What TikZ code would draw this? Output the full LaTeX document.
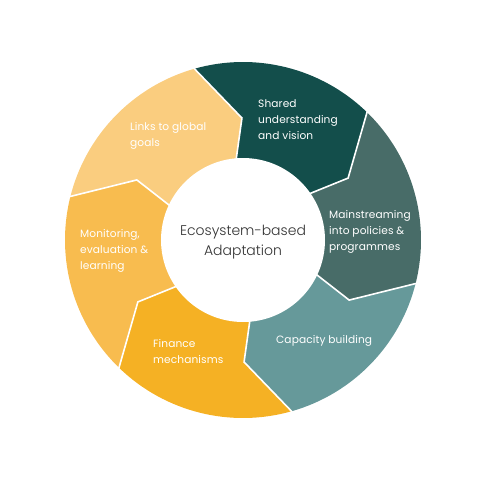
\documentclass[tikz,border=0pt]{standalone}
\usepackage{fontspec}
\setmainfont{Poppins}[LetterSpace=1]
\newfontfamily\centrefont{Poppins Light}
\definecolor{cA}{HTML}{134E4B}
\definecolor{cB}{HTML}{486C68}
\definecolor{cC}{HTML}{66999A}
\definecolor{cD}{HTML}{F5B124}
\definecolor{cE}{HTML}{F8BC4F}
\definecolor{cF}{HTML}{FACD7F}
\definecolor{ctext}{HTML}{333333}
\tikzset{
  seglabel/.style={anchor=west, inner sep=0pt, align=left, text=white,
    font=\fontsize{10.6}{16}\selectfont},
  centrelabel/.style={inner sep=0pt, align=center, text=ctext,
    font=\centrefont\fontsize{14}{20}\selectfont},
  sepline/.style={white, line width=1.6pt, line join=miter},
}
\begin{document}
\begin{tikzpicture}[x=1pt,y=1pt]
\useasboundingbox (-243,-240) rectangle (238,240);
\foreach \s/\col in {90/cA, 30/cB, -30/cC, -90/cD, -150/cE, 150/cF} {
  \fill[\col] ({\s+16}:178) arc[start angle={\s+16}, end angle={\s-44}, radius=178]
    -- ({\s-59.5}:122) -- ({\s-55}:82) -- (0,0) -- ({\s+5}:82) -- ({\s+0.5}:122) -- cycle;
}
\foreach \s in {90, 30, -30, -90, -150, 150} {
  \draw[sepline] ({\s+16}:179) -- ({\s+0.5}:122) -- ({\s+5}:80);
}
\fill[white] (0,0) circle[radius=82];
\node[centrelabel] (centre) at (0,-2) {Ecosystem-based\\Adaptation};
\node[seglabel] (shared) at (15,120) {Shared\\understanding\\and vision};
\node[seglabel] (main) at (86,8) {Mainstreaming\\into policies \&\\programmes};
\node[seglabel] (capacity) at (33,-101) {Capacity building};
\node[seglabel] (finance) at (-90,-112) {Finance\\mechanisms};
\node[seglabel] (monitor) at (-163,-11) {Monitoring,\\evaluation \&\\learning};
\node[seglabel] (links) at (-113,104) {Links to global\\goals};
\end{tikzpicture}
\end{document}
